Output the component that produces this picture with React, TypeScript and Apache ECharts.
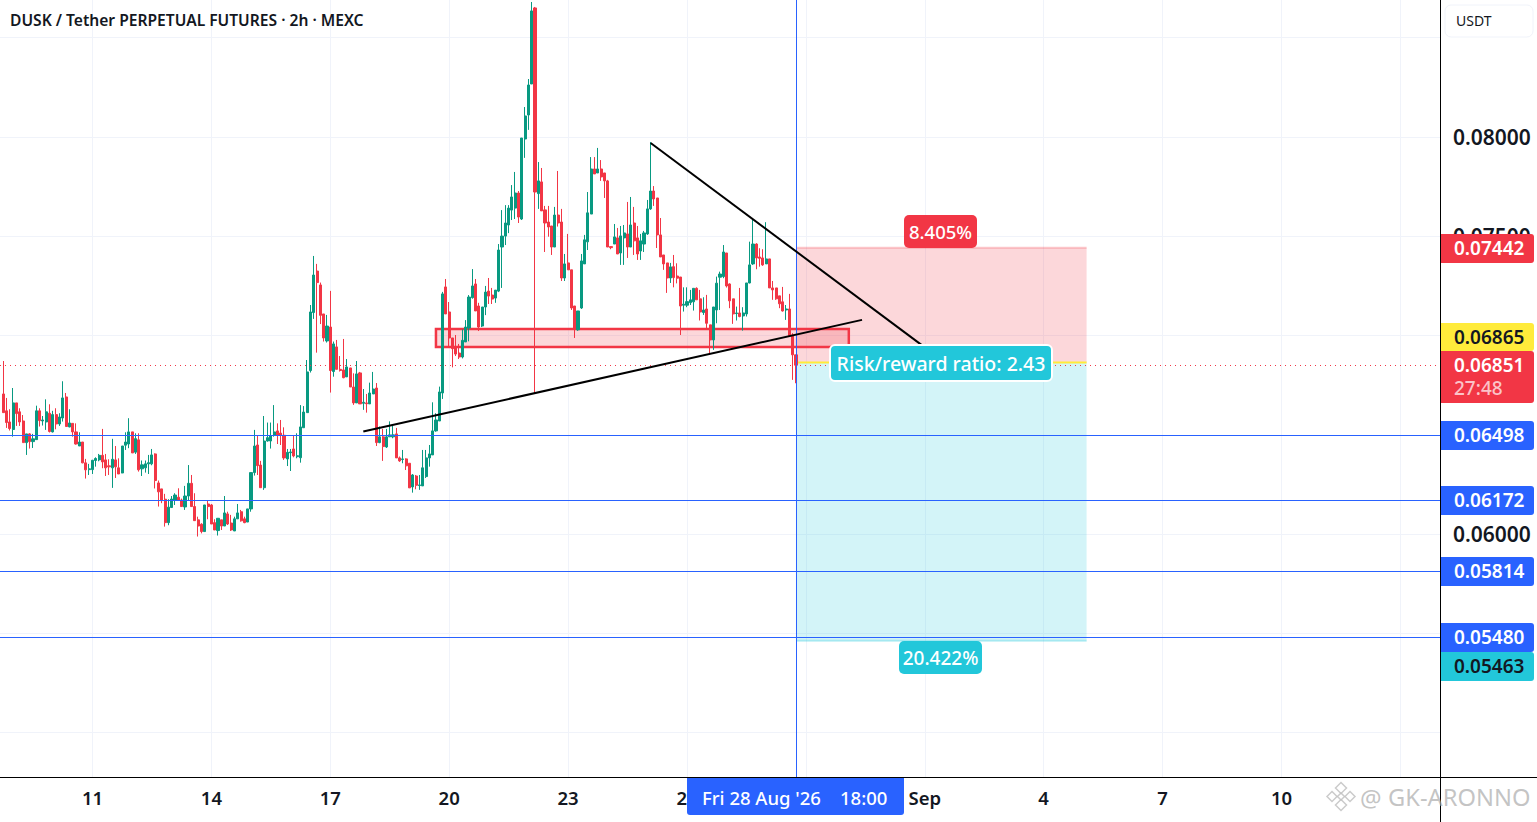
import React, { useEffect, useRef } from "react";
import * as echarts from "echarts";

const TITLE = "DUSK / Tether PERPETUAL FUTURES · 2h · MEXC";
const POINT = 0.00001;
const dayLabels = ["11", "14", "17", "20", "23", "26", "29", "Sep", "4", "7", "10", "13"];
const FIRST_DAY_BAR = 27;
const BARS_PER_LABEL = 36;
const TOTAL_SLOTS = 436;
const gridPrices = [0.05, 0.055, 0.06, 0.065, 0.07, 0.075, 0.08, 0.085];
const axisPrices = [0.06, 0.075, 0.08];
const levelPrices = [0.06498, 0.06172, 0.05814, 0.0548];
const LAST_PRICE = 0.06851;
const STOP = 0.07442;
const ENTRY = 0.06865;
const TARGET = 0.05463;
const POSITION_BARS = [240, 328];
const CROSSHAIR_BAR = 240;
const zoneBars = [131, 256];
const zonePrices = [0.07033, 0.06943];
const risingLine = [[109, 0.06517], [260, 0.07079]];
const fallingLine = [[196, 0.0797], [278, 0.06953]];

// open, close, low, high in units of 0.00001 USDT
const candles = [
[6706,6612,6612,6872],[6621,6562,6535,6686],[6565,6532,6522,6629],[6527,6661,6491,6736],[6661,6607,6545,6661],
[6616,6565,6545,6634],[6570,6461,6461,6600],[6461,6505,6399,6505],[6505,6466,6431,6508],[6466,6480,6434,6505],
[6476,6621,6475,6647],[6621,6572,6542,6634],[6570,6575,6547,6595],[6565,6616,6525,6679],[6609,6517,6512,6654],
[6515,6602,6512,6621],[6602,6555,6528,6634],[6555,6590,6545,6609],[6585,6686,6567,6770],[6691,6542,6542,6711],
[6540,6560,6538,6629],[6558,6515,6491,6558],[6515,6454,6451,6558],[6444,6464,6444,6513],[6464,6359,6357,6464],
[6359,6324,6280,6379],[6325,6329,6298,6354],[6325,6372,6303,6374],[6371,6381,6340,6387],[6374,6397,6367,6404],
[6397,6364,6332,6530],[6374,6334,6293,6404],[6344,6339,6298,6377],[6334,6377,6233,6480],[6374,6339,6283,6444],
[6334,6303,6303,6382],[6308,6444,6307,6444],[6448,6464,6424,6513],[6454,6515,6433,6584],[6515,6409,6409,6515],
[6413,6481,6404,6508],[6475,6324,6315,6508],[6329,6349,6293,6371],[6334,6354,6310,6371],[6354,6360,6303,6399],
[6354,6399,6347,6429],[6404,6270,6230,6407],[6258,6213,6139,6270],[6228,6169,6156,6228],[6176,6058,6038,6203],
[6058,6136,6045,6176],[6134,6177,6134,6192],[6172,6197,6147,6206],[6186,6172,6172,6231],[6172,6139,6139,6179],
[6137,6192,6122,6243],[6192,6256,6172,6348],[6256,6139,6139,6298],[6139,6068,6068,6206],[6072,6041,5988,6088],
[6050,6013,6004,6055],[6013,6147,6013,6147],[6152,6139,6075,6169],[6147,6051,6051,6152],[6058,6021,6021,6075],
[6018,6080,5993,6080],[6072,6041,6021,6072],[6041,6107,6041,6192],[6102,6051,6046,6113],[6056,6021,6016,6097],
[6016,6077,6016,6088],[6077,6107,6077,6152],[6113,6067,6063,6122],[6077,6058,6055,6088],[6061,6127,6061,6127],
[6127,6310,6113,6310],[6310,6444,6295,6525],[6449,6345,6298,6494],[6348,6234,6234,6369],[6234,6469,6223,6595],
[6469,6486,6466,6562],[6469,6496,6431,6562],[6498,6515,6491,6650],[6520,6498,6454,6558],[6509,6498,6449,6575],
[6498,6384,6374,6538],[6379,6412,6343,6429],[6410,6414,6318,6429],[6429,6394,6387,6499],[6390,6395,6382,6508],
[6385,6540,6360,6650],[6536,6615,6536,6645],[6612,6817,6612,6877],[6824,7119,6814,7154],[7116,7305,7084,7401],
[7325,7267,6914,7361],[7255,7102,7058,7267],[7109,6988,6970,7109],[6973,7048,6965,7104],[7043,6824,6713,7225],
[6819,6958,6793,6970],[6943,6830,6830,6978],[6830,6824,6819,6897],[6827,6788,6785,6983],[6792,6842,6792,6882],
[6837,6741,6741,6837],[6741,6661,6651,6810],[6661,6807,6661,6872],[6812,6656,6656,6817],[6659,6664,6626,6731],
[6661,6657,6612,6706],[6656,6711,6656,6763],[6706,6731,6706,6817],[6736,6461,6444,6761],[6461,6490,6458,6542],
[6490,6441,6369,6530],[6439,6490,6434,6530],[6490,6500,6490,6568],[6490,6500,6483,6545],[6505,6384,6384,6535],
[6384,6369,6364,6391],[6376,6379,6357,6424],[6379,6344,6323,6382],[6357,6233,6233,6357],[6238,6298,6209,6303],
[6293,6246,6226,6298],[6245,6248,6223,6298],[6243,6334,6243,6424],[6290,6384,6283,6424],[6384,6404,6340,6449],
[6399,6520,6399,6664],[6520,6575,6516,6609],[6570,6716,6570,6743],[6711,7210,6681,7220],[7245,7109,7109,7285],
[7119,6988,6939,7169],[6988,6934,6840,6988],[6938,6907,6897,7003],[6912,6892,6882,6958],[6892,6976,6885,7031],
[6968,7043,6968,7078],[7038,7194,6971,7204],[7191,7250,7186,7335],[7260,7124,7124,7285],[7149,7043,7023,7165],
[7048,7144,7043,7144],[7144,7219,7103,7250],[7224,7199,7159,7290],[7204,7184,7159,7240],[7189,7229,7165,7229],
[7224,7431,7219,7461],[7446,7501,7240,7632],[7501,7567,7456,7657],[7557,7642,7516,7657],[7632,7698,7582,7758],
[7642,7718,7587,7824],[7718,7597,7567,7728],[7587,7995,7582,7995],[7990,8106,7895,8151],[8111,8262,8036,8292],
[8267,8635,8267,8680],[8650,7723,6711,8655],[7715,7779,7638,7874],[7774,7628,7628,7844],[7633,7567,7421,7653],
[7572,7547,7498,7653],[7552,7446,7406,7552],[7446,7607,7446,7648],[7607,7567,7549,7829],[7572,7290,7275,7638],
[7290,7361,7275,7411],[7366,7331,7331,7512],[7331,7139,7129,7331],[7149,7034,6988,7149],[7029,7124,7024,7124],
[7139,7376,7134,7411],[7361,7482,7361,7507],[7472,7618,7431,7723],[7612,7839,7612,7899],[7839,7814,7814,7899],
[7819,7839,7819,7945],[7839,7799,7779,7884],[7819,7779,7693,7819],[7779,7446,7446,7784],[7448,7443,7435,7448],
[7461,7497,7461,7562],[7492,7411,7411,7542],[7416,7502,7356,7552],[7492,7517,7356,7557],[7512,7446,7391,7673],
[7446,7557,7446,7698],[7567,7477,7406,7648],[7492,7411,7381,7552],[7426,7477,7381,7512],[7461,7517,7421,7527],
[7512,7638,7507,7683],[7638,7728,7633,7975],[7728,7688,7653,7753],[7693,7507,7441,7693],[7507,7396,7396,7592],
[7406,7361,7331,7406],[7366,7290,7215,7366],[7290,7346,7265,7366],[7347,7292,7243,7406],[7300,7289,7263,7364],
[7295,7149,7003,7295],[7153,7158,7121,7243],[7153,7171,7143,7243],[7166,7180,7154,7230],[7170,7238,7126,7238],
[7238,7180,7180,7243],[7185,7119,7076,7230],[7116,7129,7104,7193],[7134,7062,7037,7205],[7054,6978,6903,7054],
[6978,7144,6928,7144],[7129,7264,7062,7297],[7294,7310,7129,7322],[7297,7421,7289,7456],[7416,7250,7242,7416],
[7260,7175,7138,7263],[7185,7109,7059,7185],[7111,7114,7076,7146],[7114,7096,7092,7240],[7099,7114,7025,7143],
[7109,7265,7096,7265],[7265,7356,7263,7473],[7361,7461,7356,7587],[7461,7391,7334,7465],[7396,7389,7347,7440],
[7391,7356,7351,7435],[7361,7386,7361,7571],[7386,7240,7240,7386],[7240,7230,7180,7275],[7240,7185,7180,7240],
[7200,7160,7138,7200],[7170,7124,7121,7245],[7129,7134,7079,7154],[7134,6998,6998,7210],[7003,6903,6777,7012],
[6903,6851,6760,6903],
];

const UP = "#089981";
const DOWN = "#f23645";
const BLUE = "#2962ff";
const TEAL = "#22c7da";
const YELLOW = "#ffeb3b";
const INK = "#131722";
const GRID = "#f0f3fa";
const FONT = '"Noto Sans", sans-serif';

const slot = (bar: number) => bar + 1; // slot 0 is an empty leading slot
const categories = Array.from({ length: TOTAL_SLOTS + 1 }, () => "");
dayLabels.forEach((label, k) => {
  categories[slot(FIRST_DAY_BAR + k * BARS_PER_LABEL)] = label;
});
const hasLabel = (_: number, value: string) => value !== "";

const tag = (y0: number, y1: number, text: string, fill: string, color: string, nudge = -1) => [
  {
    type: "rect",
    z: 100,
    shape: { x: 1441, y: y0, width: 93, height: y1 - y0, r: [0, 3, 3, 0] },
    style: { fill },
  },
  {
    type: "text",
    z: 101,
    x: 1454,
    y: (y0 + y1) / 2 + nudge,
    style: { text, fill: color, font: `600 19px ${FONT}`, textVerticalAlign: "middle", textAlign: "left" },
  },
];

const badge = (
  x: number, y: number, w: number, h: number, text: string, fill: string, size: number, stroke?: string
) => [
  {
    type: "rect",
    z: 100,
    shape: { x, y, width: w, height: h, r: 5 },
    style: stroke ? { fill, stroke, lineWidth: 2 } : { fill },
  },
  {
    type: "text",
    z: 101,
    x: x + w / 2,
    y: y + h / 2,
    style: { text, fill: "#ffffff", font: `500 ${size}px ${FONT}`, textAlign: "center", textVerticalAlign: "middle" },
  },
];

const diamond = (cx: number, cy: number, r: number) => ({
  type: "polygon",
  z: 110,
  shape: { points: [[cx, cy - r], [cx + r, cy], [cx, cy + r], [cx - r, cy]] },
  style: { fill: "rgba(255,255,255,0.5)", stroke: "rgba(190,190,190,0.8)", lineWidth: 1.5 },
});

const segment = (points: number[][], color: string, width: number, z: number) => ({
  type: "line",
  z,
  silent: true,
  showSymbol: false,
  symbol: "none",
  data: points.map(([bar, price]) => [slot(bar), price]),
  lineStyle: { color, width },
  itemStyle: { color },
});

export default function App() {
  const ref = useRef<HTMLDivElement>(null);
  useEffect(() => {
    document.body.style.margin = "0";
    document.body.style.background = "#ffffff";
    const chart = echarts.init(ref.current!, undefined, { renderer: "svg" });
    const positionEdges = POSITION_BARS.map((b) => slot(b));
    chart.setOption({
      animation: false,
      backgroundColor: "#ffffff",
      title: {
        text: TITLE,
        left: 10,
        top: 12,
        padding: 0,
        textStyle: { fontFamily: FONT, fontSize: 15.6, fontWeight: 600, color: INK },
      },
      grid: { left: -1.7, top: 0, width: 1441.7, height: 778, containLabel: false },
      xAxis: {
        type: "category",
        data: categories,
        boundaryGap: false,
        axisLine: { show: false },
        axisTick: { show: false },
        axisLabel: {
          interval: hasLabel,
          margin: 10,
          color: INK,
          fontFamily: FONT,
          fontSize: 18.5,
          fontWeight: 600,
          showMinLabel: true,
          showMaxLabel: false,
        },
        splitLine: { show: true, interval: hasLabel, lineStyle: { color: GRID, width: 1 } },
      },
      yAxis: {
        type: "value",
        position: "right",
        min: 0.04772,
        max: 0.0869,
        axisLine: { show: false },
        axisTick: { show: false, customValues: gridPrices },
        axisLabel: {
          customValues: axisPrices,
          margin: 13,
          align: "left",
          padding: [0, 0, 2, 0],
          color: INK,
          fontFamily: FONT,
          fontSize: 21,
          fontWeight: 600,
          formatter: (v: number) => v.toFixed(5),
        },
        splitLine: { show: true, lineStyle: { color: GRID, width: 1 } },
      },
      series: [
        {
          type: "line",
          z: 1,
          silent: true,
          data: [],
          markLine: {
            silent: true,
            symbol: "none",
            precision: 6,
            label: { show: false },
            animation: false,
            data: levelPrices.map((yAxis) => ({ yAxis, lineStyle: { color: BLUE, width: 1, type: "solid" } })),
          },
        },
        {
          type: "line",
          z: 2,
          silent: true,
          data: [],
          markArea: {
            silent: true,
            animation: false,
            data: [
              [
                { coord: [positionEdges[0], STOP], itemStyle: { color: "rgba(242,54,69,0.2)" } },
                { coord: [positionEdges[1], ENTRY] },
              ],
              [
                { coord: [positionEdges[0], ENTRY], itemStyle: { color: "rgba(34,199,218,0.2)" } },
                { coord: [positionEdges[1], TARGET] },
              ],
            ],
          },
        },
        segment([[POSITION_BARS[0], STOP], [POSITION_BARS[1], STOP]], "rgba(242,54,69,0.25)", 2, 3),
        segment([[POSITION_BARS[0], TARGET], [POSITION_BARS[1], TARGET]], "rgba(34,199,218,0.3)", 2, 3),
        segment([[POSITION_BARS[0], ENTRY], [POSITION_BARS[1], ENTRY]], YELLOW, 2, 3),
        {
          type: "candlestick",
          z: 4,
          silent: true,
          clip: true,
          barWidth: 2.6,
          data: [["-", "-", "-", "-"], ...candles.map((row) => row.map((v) => +(v * POINT).toFixed(5)))],
          itemStyle: { color: UP, color0: DOWN, borderColor: UP, borderColor0: DOWN, borderWidth: 1 },
        },
        {
          type: "line",
          z: 5,
          silent: true,
          data: [],
          markLine: {
            silent: true,
            symbol: "none",
            precision: 6,
            label: { show: false },
            animation: false,
            data: [
              { yAxis: LAST_PRICE, lineStyle: { color: DOWN, width: 1, type: [1, 4] } },
              { xAxis: slot(CROSSHAIR_BAR), lineStyle: { color: BLUE, width: 1, type: "solid" } },
            ],
          },
          markArea: {
            silent: true,
            animation: false,
            data: [
              [
                {
                  coord: [slot(zoneBars[0]), zonePrices[0]],
                  itemStyle: { color: "rgba(242,54,69,0.2)", borderColor: DOWN, borderWidth: 2.5 },
                },
                { coord: [slot(zoneBars[1]), zonePrices[1]] },
              ],
            ],
          },
        },
        segment(risingLine, "#000000", 2, 6),
        segment(fallingLine, "#000000", 2, 6),
      ],
      graphic: [
        { type: "line", z: 90, shape: { x1: 0, y1: 777.5, x2: 1537, y2: 777.5 }, style: { stroke: "#000000", lineWidth: 1 } },
        { type: "line", z: 90, shape: { x1: 1440.5, y1: 0, x2: 1440.5, y2: 822 }, style: { stroke: "#000000", lineWidth: 1 } },
        { type: "rect", z: 95, shape: { x: 1445, y: 5, width: 88, height: 32, r: 6 }, style: { fill: "#ffffff", stroke: GRID, lineWidth: 1 } },
        { type: "text", z: 96, x: 1456, y: 20, style: { text: "USDT", fill: INK, font: `400 14px ${FONT}`, textVerticalAlign: "middle" } },
        ...tag(234, 263, "0.07442", DOWN, "#ffffff"),
        ...tag(323, 351, "0.06865", YELLOW, INK, 0),
        { type: "rect", z: 100, shape: { x: 1441, y: 351, width: 93, height: 52, r: [0, 3, 3, 0] }, style: { fill: DOWN } },
        { type: "text", z: 101, x: 1454, y: 365, style: { text: "0.06851", fill: "#ffffff", font: `600 19px ${FONT}`, textVerticalAlign: "middle" } },
        { type: "text", z: 101, x: 1454, y: 388, style: { text: "27:48", fill: "#fbc3c8", font: `500 19px ${FONT}`, textVerticalAlign: "middle" } },
        ...tag(421, 450, "0.06498", BLUE, "#ffffff"),
        ...tag(486, 515, "0.06172", BLUE, "#ffffff"),
        ...tag(557, 586, "0.05814", BLUE, "#ffffff"),
        ...tag(623, 652, "0.05480", BLUE, "#ffffff"),
        ...tag(652, 681, "0.05463", TEAL, INK),
        ...badge(904, 215, 73, 33, "8.405%", DOWN, 18.5),
        ...badge(899, 641, 83, 33, "20.422%", TEAL, 19),
        ...badge(830, 345, 222, 36, "Risk/reward ratio: 2.43", TEAL, 19.5, "#ffffff"),
        { type: "rect", z: 100, shape: { x: 687, y: 778, width: 217, height: 37, r: [0, 0, 3, 3] }, style: { fill: BLUE } },
        { type: "text", z: 101, x: 702, y: 797, style: { text: "Fri 28 Aug '26", fill: "#ffffff", font: `500 18.5px ${FONT}`, textVerticalAlign: "middle" } },
        { type: "text", z: 101, x: 840, y: 797, style: { text: "18:00", fill: "#ffffff", font: `500 18.5px ${FONT}`, textVerticalAlign: "middle" } },
        diamond(1341, 788, 5.5),
        diamond(1341, 805, 5.5),
        diamond(1332, 796.5, 5),
        diamond(1350, 796.5, 5),
        diamond(1341, 796.5, 3.5),
        { type: "text", z: 110, x: 1360, y: 797, style: { text: "@", fill: "rgba(170,170,170,0.7)", font: `400 24px ${FONT}`, textVerticalAlign: "middle" } },
        { type: "text", z: 110, x: 1388, y: 797, style: { text: "GK-ARONNO", fill: "rgba(170,170,170,0.7)", font: `400 23.7px ${FONT}`, textVerticalAlign: "middle" } },
      ],
    });
    return () => chart.dispose();
  }, []);
  return <div ref={ref} style={{ position: "fixed", left: 0, top: 0, width: 1537, height: 822 }} />;
}
